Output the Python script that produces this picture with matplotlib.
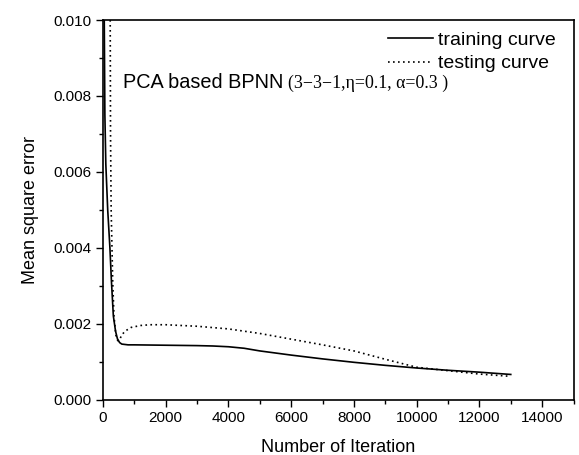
import numpy as np
import matplotlib.pyplot as plt
from matplotlib.ticker import MultipleLocator, FormatStrFormatter

# values
train_iter = [40, 60, 90, 150, 220, 270, 330, 400, 460, 530, 600, 800, 1000, 2000, 3000,
              3500, 4000, 4500, 5000, 6000, 7000, 8000, 9000, 10000, 11000, 12000, 13000]
train_mse = [0.0100, 0.0075, 0.0062, 0.0050, 0.0040, 0.0031, 0.0022, 0.0018, 0.0016,
             0.00150, 0.00146, 0.00144, 0.00144, 0.00143, 0.00142, 0.00141, 0.00139,
             0.00135, 0.00128, 0.00117, 0.00107, 0.00098, 0.00090, 0.00083, 0.00077,
             0.00072, 0.00066]

test_iter = [230, 240, 260, 310, 350, 410, 470, 530, 600, 700, 900, 1200, 1500, 2000,
             3000, 4000, 5000, 6000, 7000, 8000, 9000, 10000, 11000, 12000, 13000]
test_mse = [0.0100, 0.0070, 0.0050, 0.0031, 0.0022, 0.0017, 0.00155, 0.00158, 0.00170,
            0.00180, 0.00190, 0.00195, 0.00197, 0.00197, 0.00193, 0.00186, 0.00174,
            0.00159, 0.00144, 0.00128, 0.00106, 0.00085, 0.00076, 0.00067, 0.00061]

plt.rcParams['font.family'] = ['Liberation Sans', 'DejaVu Sans']

fig = plt.figure(figsize=(5.79, 4.55), dpi=100)
ax = fig.add_axes([103 / 579, 55.5 / 455, 470.5 / 579, 379.5 / 455])

ax.plot(train_iter, train_mse, color='black', lw=1.2, label='training curve')
ax.plot(test_iter, test_mse, color='black', lw=1.2, ls=(0, (1, 2)), label='testing curve')

ax.set_xlim(0, 15000)
ax.set_ylim(0, 0.010)
ax.xaxis.set_major_locator(MultipleLocator(2000))
ax.xaxis.set_minor_locator(MultipleLocator(1000))
ax.yaxis.set_major_locator(MultipleLocator(0.002))
ax.yaxis.set_minor_locator(MultipleLocator(0.001))
ax.yaxis.set_major_formatter(FormatStrFormatter('%.3f'))
ax.tick_params(which='both', direction='out', top=False, right=False, labelsize=11)
ax.tick_params(which='major', length=5, width=1)
ax.tick_params(which='minor', length=3, width=1)
for s in ax.spines.values():
    s.set_linewidth(1.2)

ax.set_xlabel('Number of Iteration', fontsize=13, labelpad=10)
ax.set_ylabel('Mean square error', fontsize=13, labelpad=10)

ax.legend(loc='upper left', frameon=False, fontsize=14, handlelength=2.3,
          handletextpad=0.25, labelspacing=0.3, borderpad=0, borderaxespad=0,
          bbox_to_anchor=(0.606, 0.97))

ax.text(0.042, 0.822, 'PCA based BPNN', transform=ax.transAxes, fontsize=14.3,
        va='baseline')
ax.text(0.393, 0.822, '(3\u22123\u22121,\u03b7=0.1, \u03b1=0.3 )', transform=ax.transAxes,
        fontsize=12.9, va='baseline', family=['Liberation Serif', 'DejaVu Serif'])

fig.savefig('out.png', dpi=100)
